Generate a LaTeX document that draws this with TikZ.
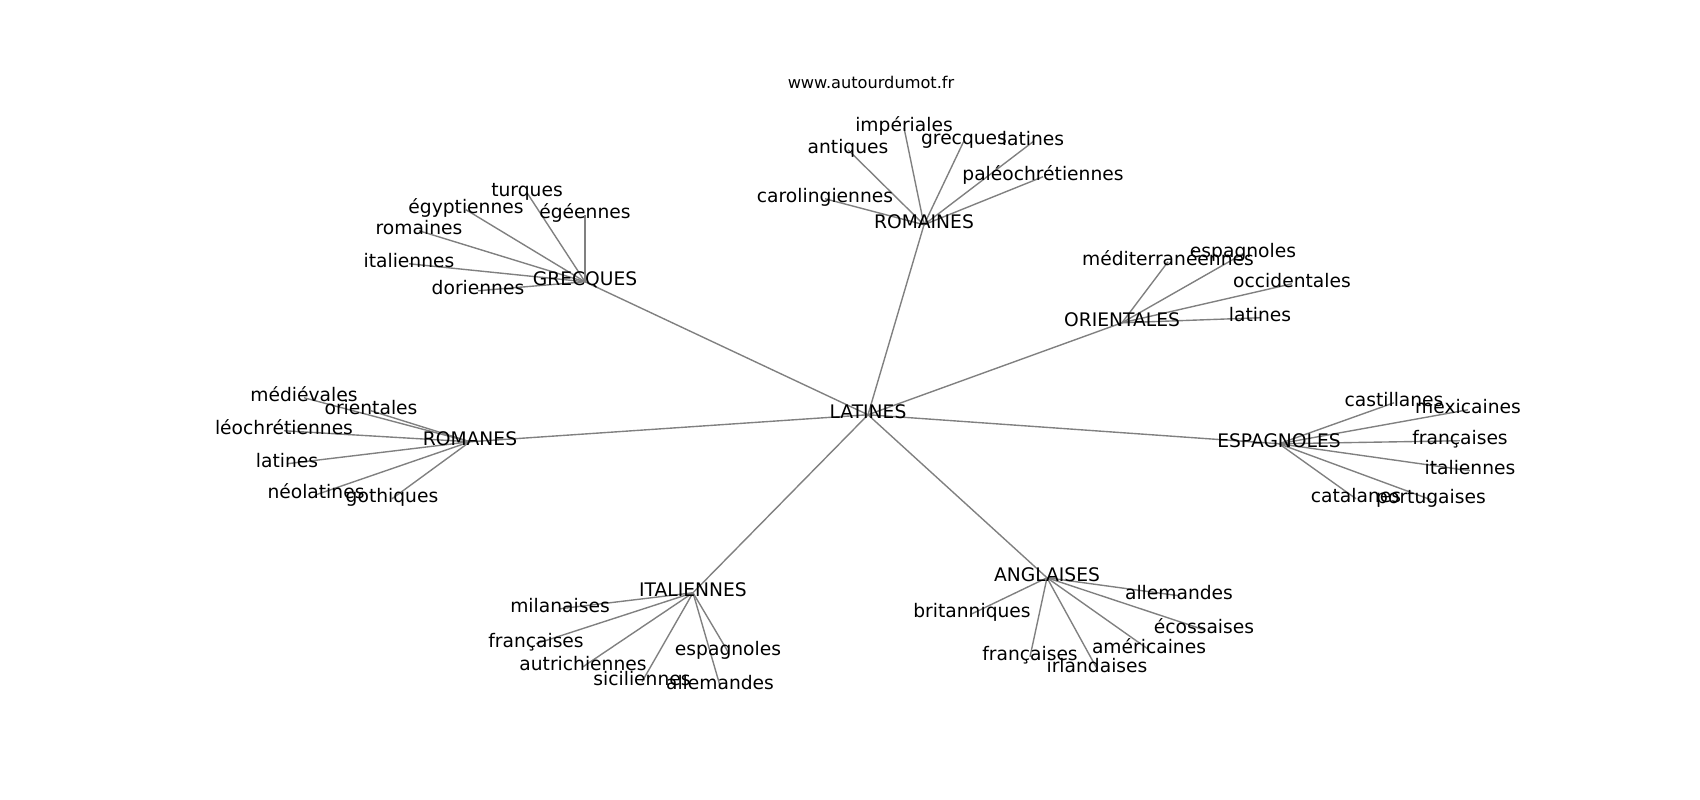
\documentclass[tikz,border=0pt]{standalone}
\usepackage{fontspec}
\setmainfont{DejaVu Sans}
\usetikzlibrary{backgrounds}
\tikzset{
  lbl/.style={inner sep=0pt, outer sep=0pt, text height=0.78em, text depth=0.24em,
    font=\fontsize{13.5}{16}\selectfont, text=black, yshift=-0.7mm},
  ttl/.style={inner sep=0pt, text height=0.78em, text depth=0.24em,
    font=\fontsize{11.7}{14}\selectfont, text=black, yshift=-0.5mm},
  edge/.style={draw=black!50, line width=1pt}
}
\begin{document}
\begin{tikzpicture}[x=0.254mm, y=-0.254mm]
\useasboundingbox (0,0) rectangle (1700,800);
\node[ttl] (title) at (871,83) {www.autourdumot.fr};
% centre and hubs
\node[lbl] (lat) at (868,412) {LATINES};
\node[lbl] (rmi) at (924,222) {ROMAINES};
\node[lbl] (grc) at (585,279) {GRECQUES};
\node[lbl] (ori) at (1122,320) {ORIENTALES};
\node[lbl] (rmn) at (470,439) {ROMANES};
\node[lbl] (esp) at (1279,441) {ESPAGNOLES};
\node[lbl] (ita) at (693,590) {ITALIENNES};
\node[lbl] (ang) at (1047,575) {ANGLAISES};
% ROMAINES leaves
\node[lbl] (rmi1) at (904,125) {impériales};
\node[lbl] (rmi2) at (848,147) {antiques};
\node[lbl] (rmi3) at (964,138) {grecques};
\node[lbl] (rmi4) at (1033,139) {latines};
\node[lbl] (rmi5) at (1043,174) {paléochrétiennes};
\node[lbl] (rmi6) at (825,196) {carolingiennes};
% GRECQUES leaves
\node[lbl] (grc1) at (527,190) {turques};
\node[lbl] (grc2) at (466,207) {égyptiennes};
\node[lbl] (grc3) at (585,212) {égéennes};
\node[lbl] (grc4) at (419,228) {romaines};
\node[lbl] (grc5) at (409,261) {italiennes};
\node[lbl] (grc6) at (478,288) {doriennes};
% ORIENTALES leaves
\node[lbl] (ori1) at (1168,259) {méditerranéennes};
\node[lbl] (ori2) at (1243,251) {espagnoles};
\node[lbl] (ori3) at (1292,281) {occidentales};
\node[lbl] (ori4) at (1260,315) {latines};
% ROMANES leaves
\node[lbl] (rmn1) at (304,395) {médiévales};
\node[lbl] (rmn2) at (371,408) {orientales};
\node[lbl] (rmn3) at (284,428) {léochrétiennes};
\node[lbl] (rmn4) at (287,461) {latines};
\node[lbl] (rmn5) at (316,492) {néolatines};
\node[lbl] (rmn6) at (392,496) {gothiques};
% ESPAGNOLES leaves
\node[lbl] (esp1) at (1394,400) {castillanes};
\node[lbl] (esp2) at (1468,407) {mexicaines};
\node[lbl] (esp3) at (1460,438) {françaises};
\node[lbl] (esp4) at (1470,468) {italiennes};
\node[lbl] (esp5) at (1356,496) {catalanes};
\node[lbl] (esp6) at (1431,497) {portugaises};
% ITALIENNES leaves
\node[lbl] (ita1) at (560,606) {milanaises};
\node[lbl] (ita2) at (536,641) {françaises};
\node[lbl] (ita3) at (583,664) {autrichiennes};
\node[lbl] (ita4) at (642,679) {siciliennes};
\node[lbl] (ita5) at (720,683) {allemandes};
\node[lbl] (ita6) at (728,649) {espagnoles};
% ANGLAISES leaves
\node[lbl] (ang1) at (1179,593) {allemandes};
\node[lbl] (ang2) at (972,611) {britanniques};
\node[lbl] (ang3) at (1204,627) {écossaises};
\node[lbl] (ang4) at (1149,647) {américaines};
\node[lbl] (ang5) at (1030,654) {françaises};
\node[lbl] (ang6) at (1097,666) {irlandaises};
\begin{scope}[on background layer]
\fill[white] (0,0) rectangle (1700,800);
\foreach \h in {rmi,grc,ori,rmn,esp,ita,ang}
  \draw[edge] (lat.center) -- (\h.center);
\foreach \h/\n in {rmi/6,grc/6,ori/4,rmn/6,esp/6,ita/6,ang/6}
  \foreach \i in {1,...,\n}
    \draw[edge] (\h.center) -- (\h\i.center);
\end{scope}
\end{tikzpicture}
\end{document}
